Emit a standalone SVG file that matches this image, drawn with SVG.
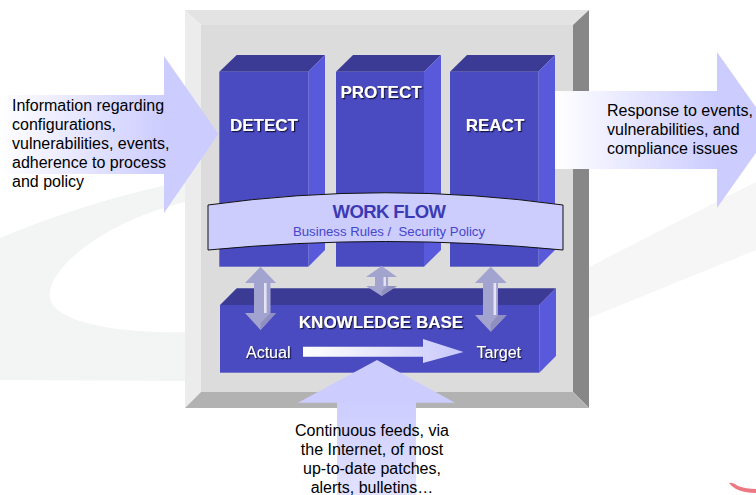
<svg xmlns="http://www.w3.org/2000/svg" width="756" height="495" viewBox="0 0 756 495">
  <defs>
    <style>
      .front { fill: #4b4bc1; }
      .top { fill: #3b3b95; }
      .side { fill: #5959dc; }
      .lbl { font-family: "Liberation Sans", Arial, sans-serif; fill: #ffffff; filter: url(#shadow); }
      .bold { font-weight: bold; font-size: 17px; }
      .note { font-family: "Liberation Sans", Arial, sans-serif; font-size: 16px; fill: #000000; }
      .dbl { fill: #a3a3d0; }
      .dbl-hi { fill: #e4e4f4; }
      .dbl-dark { fill: #8f8fc0; }
    </style>
    <filter id="shadow" x="-10%" y="-30%" width="120%" height="160%">
      <feDropShadow dx="1.2" dy="1.2" stdDeviation="0.2" flood-color="#15153f" flood-opacity="1"/>
    </filter>
    <linearGradient id="inGrad" gradientUnits="userSpaceOnUse" x1="0" y1="0" x2="165" y2="0">
      <stop offset="0" stop-color="#ffffff"/>
      <stop offset="1" stop-color="#ccccff"/>
    </linearGradient>
    <linearGradient id="outGrad" gradientUnits="userSpaceOnUse" x1="555" y1="0" x2="717" y2="0">
      <stop offset="0" stop-color="#ffffff"/>
      <stop offset="1" stop-color="#ccccff"/>
    </linearGradient>
    <linearGradient id="feedGrad" gradientUnits="userSpaceOnUse" x1="0" y1="400" x2="0" y2="495">
      <stop offset="0" stop-color="#ccccff"/>
      <stop offset="1" stop-color="#e2e2ff"/>
    </linearGradient>
    <linearGradient id="flowGrad" gradientUnits="userSpaceOnUse" x1="303" y1="0" x2="463" y2="0">
      <stop offset="0" stop-color="#ffffff"/>
      <stop offset="1" stop-color="#c8c8fb"/>
    </linearGradient>
  </defs>

  <rect width="756" height="495" fill="#ffffff"/>

  <!-- faint background swoosh -->
  <g id="backdrop">
    <path fill="#f3f4f4" fill-rule="evenodd"
          d="M0,238 Q90,200 190,180 L190,381 L0,380 Z
             M190,201 C110,218 45,268 50,298 C55,325 130,334 190,332 Z"/>
    <path fill="#f6f6f6" d="M589,267 L720,200 L756,182 L756,250 L589,318 Z"/>
    <path fill="#e8606c" opacity="0.85"
          d="M729,483 Q733,482 738,486 Q746,489 756,489 L756,493 Q744,493 736,489 Q731,486 729,483 Z"/>
  </g>

  <!-- bevelled frame -->
  <g id="frame">
    <polygon fill="#e3e3e3" points="185,10 589,10 573,25 201,25"/>
    <polygon fill="#ececec" points="185,10 201,25 201,392 185,408"/>
    <polygon fill="#878787" points="589,10 589,408 573,392 573,25"/>
    <polygon fill="#b2b2b2" points="185,408 201,392 573,392 589,408"/>
    <rect x="201" y="25" width="372" height="367" fill="#dcdcdc"/>
  </g>

  <!-- incoming information arrow -->
  <g id="input">
    <polygon fill="url(#inGrad)" points="0,95 164,95 164,56 218.5,134 164,213 164,174 0,174"/>
    <text class="note" x="12" y="111">Information regarding</text>
    <text class="note" x="12" y="130">configurations,</text>
    <text class="note" x="12" y="149">vulnerabilities, events,</text>
    <text class="note" x="12" y="168">adherence to process</text>
    <text class="note" x="12" y="187">and policy</text>
  </g>

  <!-- outgoing response arrow -->
  <g id="output">
    <polygon fill="url(#outGrad)" points="550,91 717,91 717,52 772,130 717,208 717,169 550,169"/>
    <text class="note" x="607" y="116">Response to events,</text>
    <text class="note" x="607" y="135">vulnerabilities, and</text>
    <text class="note" x="607" y="154">compliance issues</text>
  </g>

  <!-- three pillars -->
  <g id="detect">
    <polygon class="top" points="219.3,71.7 236.7,55 325,55 308.3,71.7"/>
    <polygon class="side" points="308.3,71.7 325,55 325,250 308.3,266.7"/>
    <rect class="front" x="219.3" y="71.7" width="89" height="195"/>
    <text class="lbl bold" x="264" y="130.5" text-anchor="middle">DETECT</text>
  </g>
  <g id="protect">
    <polygon class="top" points="336,71.7 353,55 441,55 424,71.7"/>
    <polygon class="side" points="424,71.7 441,55 441,250 424,266.7"/>
    <rect class="front" x="336" y="71.7" width="88" height="195"/>
    <text class="lbl bold" x="381" y="97.5" text-anchor="middle">PROTECT</text>
  </g>
  <g id="react">
    <polygon class="top" points="450,71.7 467,55 555,55 538.3,71.7"/>
    <polygon class="side" points="538.3,71.7 555,55 555,250 538.3,266.7"/>
    <rect class="front" x="450" y="71.7" width="88.3" height="195"/>
    <text class="lbl bold" x="495" y="130.5" text-anchor="middle">REACT</text>
  </g>

  <!-- workflow banner across the pillars -->
  <g id="workflow">
    <path fill="#ccccfd" stroke="#111111" stroke-width="1"
          d="M208,205 Q385.5,180.5 563,205 L563,250 Q385.5,233 208,250 Z"/>
    <text x="389" y="218" text-anchor="middle" font-family="Liberation Sans, Arial, sans-serif"
          font-weight="bold" font-size="18.5" fill="#3a3ab4" letter-spacing="-0.6">WORK FLOW</text>
    <text x="389" y="235.5" text-anchor="middle" font-family="Liberation Sans, Arial, sans-serif"
          font-size="13.2" fill="#4646cc" style="white-space:pre">Business Rules /  Security Policy</text>
  </g>

  <!-- knowledge base block -->
  <g id="knowledge-base">
    <polygon class="top" points="220,305 236.7,288.3 556,288.3 539.3,305"/>
    <polygon class="side" points="539.3,305 556,288.3 556,356 539.3,372.7"/>
    <rect class="front" x="220" y="305" width="319.3" height="67.7"/>
    <text class="lbl bold" x="381" y="327.7" text-anchor="middle">KNOWLEDGE BASE</text>
    <text class="lbl" x="246" y="358.3" font-size="16">Actual</text>
    <text class="lbl" x="521" y="358.3" font-size="16" text-anchor="end">Target</text>
  </g>

  <!-- connectors -->
  <g id="connectors">
    <!-- actual to target progression -->
    <polygon fill="url(#flowGrad)" points="303,346.7 423,346.7 423,339 463.5,352 423,363 423,356.7 303,356.7"/>

    <!-- detect <-> knowledge base -->
    <polygon class="dbl" points="260.5,266.7 276,283 270.5,283 270.5,313 276,313 260.5,330 245,313 254,313 254,283 245,283"/>
    <polygon class="dbl-dark" points="260.5,330 276,313 270.5,313 260.5,323"/>
    <rect class="dbl-hi" x="264" y="283" width="2.6" height="30"/>

    <!-- protect <-> knowledge base -->
    <polygon class="dbl" points="381.7,266 397,277 388,277 388,286 397,286 381.7,296 366,286 375,286 375,277 366,277"/>
    <polygon class="dbl-dark" points="381.7,296 397,286 388,286 381.7,291"/>
    <rect class="dbl-hi" x="383.5" y="277" width="2.4" height="9"/>

    <!-- react <-> knowledge base -->
    <polygon class="dbl" points="490.7,266.7 506.7,283 498,283 498,315 506.7,315 490.7,331.7 475,315 483,315 483,283 475,283"/>
    <polygon class="dbl-dark" points="490.7,331.7 506.7,315 498,315 490.7,324"/>
    <rect class="dbl-hi" x="493.5" y="283" width="2.6" height="32"/>
  </g>

  <!-- continuous feeds arrow from below -->
  <g id="feeds">
    <polygon fill="url(#feedGrad)" points="377,360 455,402.7 416,402.7 416,495 337,495 337,402.7 298,402.7"/>
    <text class="note" x="372" y="436" text-anchor="middle">Continuous feeds, via</text>
    <text class="note" x="372" y="455" text-anchor="middle">the Internet, of most</text>
    <text class="note" x="372" y="474" text-anchor="middle">up-to-date patches,</text>
    <text class="note" x="372" y="493" text-anchor="middle">alerts, bulletins…</text>
  </g>
</svg>
